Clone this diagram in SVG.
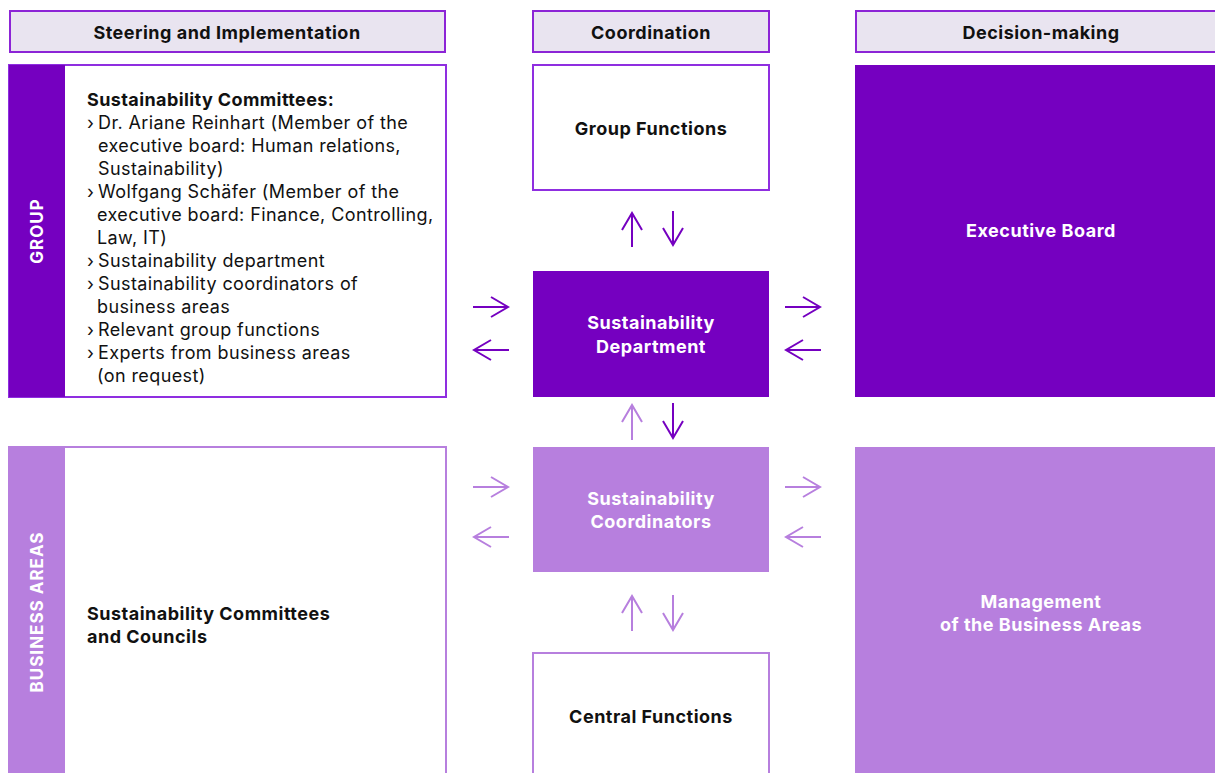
<svg xmlns="http://www.w3.org/2000/svg" width="1215" height="773" viewBox="0 0 1215 773">
<style>
.hdr{fill:#e9e4f0;stroke:#8c24d6;stroke-width:2}
.t{font-family:Inter,"Liberation Sans",Arial,sans-serif;fill:#111}
.b{font-weight:bold}
.hd{font-size:18px;font-weight:bold;text-anchor:middle;letter-spacing:0.5px}
.nb{font-size:18px;font-weight:bold;text-anchor:middle;letter-spacing:0.5px}
.li{font-size:18px;letter-spacing:0.4px}
.vt{font-size:17px;font-weight:bold;text-anchor:middle;letter-spacing:1px;fill:#fff}
.wt{fill:#fff}
.dk{fill:#7500c0}
.lt{fill:#b77fde}
.ad{stroke:#7500c0;stroke-width:2;fill:none}
.al{stroke:#b77fde;stroke-width:2;fill:none}
</style>
<defs>
<marker id="hd" viewBox="0 0 20 24" refX="18" refY="12" markerWidth="20" markerHeight="24" markerUnits="userSpaceOnUse" orient="auto">
<path d="M1,2 L18,12 L1,22" fill="none" stroke="#7500c0" stroke-width="2"/>
</marker>
<marker id="hl" viewBox="0 0 20 24" refX="18" refY="12" markerWidth="20" markerHeight="24" markerUnits="userSpaceOnUse" orient="auto">
<path d="M1,2 L18,12 L1,22" fill="none" stroke="#b77fde" stroke-width="2"/>
</marker>
</defs>

<g id="header-steering">
<rect class="hdr" x="10" y="11" width="435" height="41"/>
<text class="t hd" x="227" y="39">Steering and Implementation</text>
</g>
<g id="header-coordination">
<rect class="hdr" x="533" y="11" width="236" height="41"/>
<text class="t hd" x="651" y="39">Coordination</text>
</g>
<g id="header-decision">
<rect class="hdr" x="856" y="11" width="370" height="41"/>
<text class="t hd" x="1041" y="39">Decision-making</text>
</g>

<g id="group-committees">
<rect x="9" y="65" width="437" height="332" fill="#fff" stroke="#8f2ee0" stroke-width="2"/>
<rect class="dk" x="9" y="65" width="56" height="332"/>
<text class="t vt" x="0" y="0" transform="translate(43,231) rotate(-90)">GROUP</text>
<text class="t li b" x="87" y="106">Sustainability Committees:</text>
<text class="t li" x="87" y="129">›</text><text class="t li" x="98" y="129">Dr. Ariane Reinhart (Member of the</text>
<text class="t li" x="98" y="152">executive board: Human relations,</text>
<text class="t li" x="98" y="175">Sustainability)</text>
<text class="t li" x="87" y="198">›</text><text class="t li" x="98" y="198">Wolfgang Schäfer (Member of the</text>
<text class="t li" x="97" y="221">executive board: Finance, Controlling,</text>
<text class="t li" x="97" y="244">Law, IT)</text>
<text class="t li" x="87" y="267">›</text><text class="t li" x="98" y="267">Sustainability department</text>
<text class="t li" x="87" y="290">›</text><text class="t li" x="98" y="290">Sustainability coordinators of</text>
<text class="t li" x="97" y="313">business areas</text>
<text class="t li" x="87" y="336">›</text><text class="t li" x="98" y="336">Relevant group functions</text>
<text class="t li" x="87" y="359">›</text><text class="t li" x="98" y="359">Experts from business areas</text>
<text class="t li" x="97" y="382">(on request)</text>
</g>

<g id="business-committees">
<rect x="9" y="447" width="437" height="340" fill="#fff" stroke="#b77fde" stroke-width="2"/>
<rect class="lt" x="9" y="447" width="56" height="340"/>
<text class="t vt" x="0" y="0" transform="translate(43,612) rotate(-90)">BUSINESS AREAS</text>
<text class="t nb" x="87" y="620" style="text-anchor:start">Sustainability Committees</text>
<text class="t nb" x="87" y="643" style="text-anchor:start">and Councils</text>
</g>

<g id="group-functions">
<rect x="533" y="65" width="236" height="125" fill="#fff" stroke="#8f2ee0" stroke-width="2"/>
<text class="t nb" x="651" y="135">Group Functions</text>
</g>
<g id="sust-department">
<rect class="dk" x="533" y="271" width="236" height="126"/>
<text class="t nb wt" x="651" y="329">Sustainability</text>
<text class="t nb wt" x="651" y="353">Department</text>
</g>
<g id="sust-coordinators">
<rect class="lt" x="533" y="447" width="236" height="125"/>
<text class="t nb wt" x="651" y="505">Sustainability</text>
<text class="t nb wt" x="651" y="528">Coordinators</text>
</g>
<g id="central-functions">
<rect x="533" y="653" width="236" height="135" fill="#fff" stroke="#b77fde" stroke-width="2"/>
<text class="t nb" x="651" y="723">Central Functions</text>
</g>
<g id="executive-board">
<rect class="dk" x="855" y="65" width="360" height="332"/>
<text class="t nb wt" x="1041" y="237">Executive Board</text>
</g>
<g id="management">
<rect class="lt" x="855" y="447" width="360" height="326"/>
<text class="t nb wt" x="1041" y="608">Management</text>
<text class="t nb wt" x="1041" y="631">of the Business Areas</text>
</g>

<g id="connectors">
<line class="ad" x1="632" y1="247" x2="632" y2="213" marker-end="url(#hd)"/>
<line class="ad" x1="673" y1="211" x2="673" y2="245" marker-end="url(#hd)"/>
<line class="ad" x1="473" y1="307" x2="508" y2="307" marker-end="url(#hd)"/>
<line class="ad" x1="509" y1="350" x2="474" y2="350" marker-end="url(#hd)"/>
<line class="ad" x1="785" y1="307" x2="820" y2="307" marker-end="url(#hd)"/>
<line class="ad" x1="821" y1="350" x2="786" y2="350" marker-end="url(#hd)"/>
<line class="al" x1="632" y1="440" x2="632" y2="405" marker-end="url(#hl)"/>
<line class="ad" x1="673" y1="403" x2="673" y2="438" marker-end="url(#hd)"/>
<line class="al" x1="473" y1="487" x2="508" y2="487" marker-end="url(#hl)"/>
<line class="al" x1="509" y1="537" x2="474" y2="537" marker-end="url(#hl)"/>
<line class="al" x1="785" y1="487" x2="820" y2="487" marker-end="url(#hl)"/>
<line class="al" x1="821" y1="537" x2="786" y2="537" marker-end="url(#hl)"/>
<line class="al" x1="632" y1="631" x2="632" y2="596" marker-end="url(#hl)"/>
<line class="al" x1="673" y1="595" x2="673" y2="630" marker-end="url(#hl)"/>
</g>
</svg>
